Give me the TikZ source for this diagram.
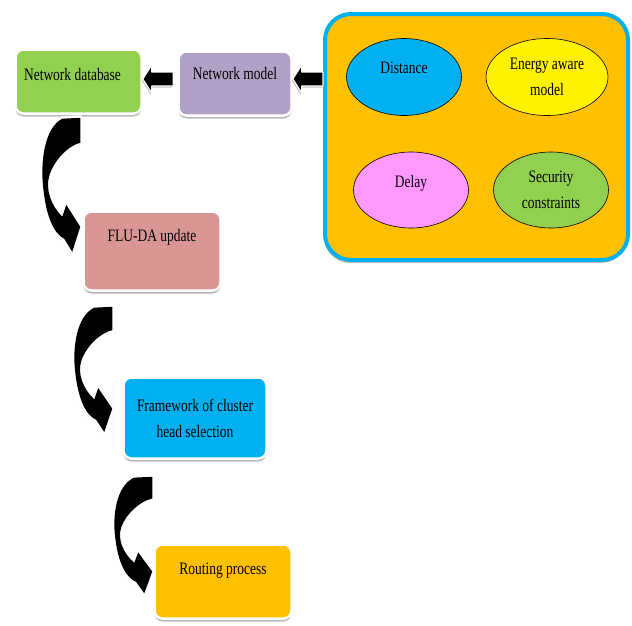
\documentclass[tikz,border=0pt]{standalone}
\usepackage{fontspec}
\setmainfont{Liberation Serif}[FakeStretch=0.77]
\usetikzlibrary{shapes.geometric,shadows,calc}

\definecolor{dbgreen}{HTML}{92D050}
\definecolor{modelpurple}{HTML}{B2A1C7}
\definecolor{flupink}{HTML}{D99694}
\definecolor{chcyan}{HTML}{00B0F0}
\definecolor{routeorange}{HTML}{FFC000}
\definecolor{delaypink}{HTML}{FF99FF}

% contour of the curved arrow, origin at its top right corner
\newcommand\curvepath{(0,0) -- (-18,1) .. controls (-36,10) and (-40,45) .. (-37,70)
  .. controls (-34,100) and (-26,116) .. (-16,121) -- (-8,134) -- (0,109)
  -- (-14,87) -- (-18,99) .. controls (-29,88) and (-35,72) .. (-31,58)
  .. controls (-26,42) and (-12,28) .. (0,25) -- cycle}

\tikzset{
  box/.style={rectangle, rounded corners=8pt, draw=white, line width=2.5pt,
    inner sep=0pt, align=center,
    drop shadow={shadow xshift=0pt, shadow yshift=-3pt, fill=gray!80!black, opacity=0.45}},
  factor/.style={ellipse, draw=black, line width=0.6pt, inner sep=0pt, align=center},
  blockarr/.style={fill=black, draw=white, line width=1.2pt, line join=round,
    drop shadow={shadow xshift=-1pt, shadow yshift=-1.5pt, fill=gray, opacity=0.5}},
  curvearrow/.pic={
    \draw[white, line width=5pt, line join=round,
      drop shadow={shadow xshift=-1.5pt, shadow yshift=-1.5pt, fill=gray, opacity=0.6}] \curvepath;
    \fill[black] \curvepath;
  }
}

% block arrow from tail #1 to tip #2 (pointing left)
\newcommand\blockarrow[2]{%
  \draw[blockarr] let \p1=(#1), \p2=(#2) in
    (\x1,\y1+7pt) -- (\x2+9pt,\y1+7pt) -- (\x2+9pt,\y1+14pt) -- (\x2,\y1)
    -- (\x2+9pt,\y1-14pt) -- (\x2+9pt,\y1-7pt) -- (\x1,\y1-7pt) -- cycle;}

\begin{document}
\begin{tikzpicture}[x=1pt, y=-1pt, font=\fontsize{17.5}{26}\selectfont]
\useasboundingbox (0,0) rectangle (632,625);
%boxes
\node[box, fill=dbgreen, minimum width=126pt, minimum height=64pt, text height=12pt, text depth=15pt] (db) at (78.5,81.5) {Network database\hspace{12pt}};
\node[box, fill=modelpurple, minimum width=113pt, minimum height=64pt, text height=12pt, text depth=21pt] (model) at (235,83.5) {Network model};
\node[box, fill=flupink, minimum width=137pt, minimum height=79pt, text height=12pt, text depth=32pt] (flu) at (152,251) {FLU-DA update};
\node[box, fill=chcyan, minimum width=143pt, minimum height=81pt] (fw) at (195,418) {Framework of cluster\\head selection};
\node[box, fill=routeorange, minimum width=137pt, minimum height=74pt, text height=12pt, text depth=27pt] (route) at (223,581.5) {Routing process};
%factors
\node[rectangle, rounded corners=26pt, draw=chcyan, line width=4pt, fill=routeorange,
  minimum width=303pt, minimum height=246pt,
  drop shadow={shadow xshift=-1pt, shadow yshift=-3pt, fill=gray, opacity=0.5}] (factors) at (476.5,137) {};
\node[factor, fill=chcyan, minimum width=115pt, minimum height=77pt, text height=12pt, text depth=20pt] (dist) at (404,77) {Distance};
\node[factor, fill=yellow, minimum width=122pt, minimum height=77pt] (energy) at (547,77) {Energy aware\\model};
\node[factor, fill=delaypink, minimum width=115pt, minimum height=76pt, text height=12pt, text depth=18pt] (delay) at (411,190) {Delay};
\node[factor, fill=dbgreen, minimum width=115pt, minimum height=76pt] (secu) at (551,190) {Security\\constraints};
%fleches
\coordinate (mtail) at ($(model.west)+(-4,-4.5)$);
\blockarrow{mtail}{db.east}
\blockarrow{factors.west |- mtail}{model.east}
\pic at ($(db.south west)+(66,3)$) {curvearrow};
\pic[yscale=0.935] at ($(flu.south west)+(30,15)$) {curvearrow};
\pic[yscale=0.87] at ($(fw.south west)+(30,17)$) {curvearrow};
\end{tikzpicture}
\end{document}
